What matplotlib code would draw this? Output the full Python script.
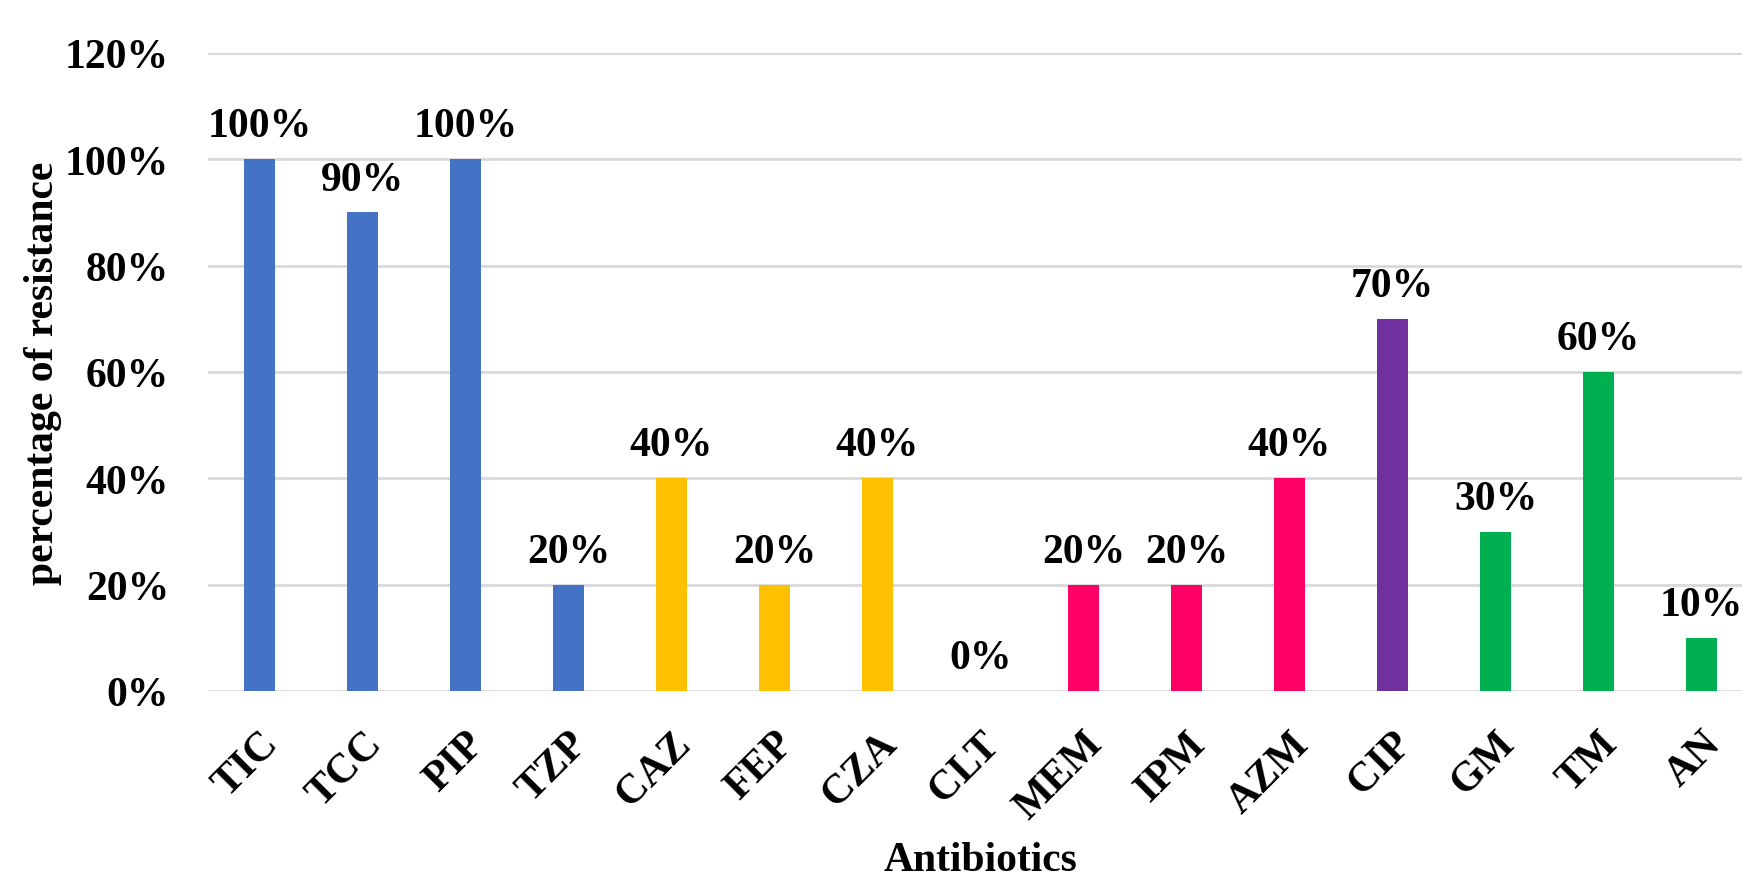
import matplotlib.pyplot as plt

# Resistance rate per antibiotic, grouped by class colour
antibiotics = ["TIC", "TCC", "PIP", "TZP", "CAZ", "FEP", "CZA", "CLT",
               "MEM", "IPM", "AZM", "CIP", "GM", "TM", "AN"]
resistance = [1.00, 0.90, 1.00, 0.20, 0.40, 0.20, 0.40, 0.00,
              0.20, 0.20, 0.40, 0.70, 0.30, 0.60, 0.10]
bar_colors = ["#4472C4"] * 4 + ["#FFC000"] * 3 + ["#FF0066"] * 4 + \
             ["#7030A0"] + ["#00B050"] * 3
y_ticks = [0, 0.2, 0.4, 0.6, 0.8, 1.0, 1.2]

plt.rcParams['font.family'] = ['Liberation Serif', 'DejaVu Serif']
plt.rcParams['font.weight'] = 'bold'
FS = 30

fig = plt.figure(figsize=(17.42, 8.78), dpi=100)
ax = fig.add_axes([208 / 1742, 186 / 878, 1545 / 1742, 638 / 878])

x = range(len(antibiotics))
ax.bar(x, resistance, width=0.31, color=bar_colors, zorder=3)

for xi, v in zip(x, resistance):
    ax.annotate(f"{v * 100:.0f}%", (xi, v), xytext=(0, 10),
                textcoords="offset points", ha="center", va="bottom",
                fontsize=FS, fontweight="bold", annotation_clip=False)

ax.set_xlim(-0.5, len(antibiotics) - 0.5)
ax.set_ylim(0, 1.2)
ax.set_yticks(y_ticks)
ax.set_yticklabels([f"{t * 100:.0f}%" for t in y_ticks], fontsize=FS,
                   fontweight="bold")
ax.set_xticks(list(x))
ax.set_xticklabels(antibiotics, rotation=45, ha="right",
                   rotation_mode="anchor", fontsize=FS, fontweight="bold")
ax.tick_params(length=0)
ax.tick_params(axis="x", pad=24)
ax.tick_params(axis="y", pad=28)

ax.grid(axis="y", color="#D9D9D9", linewidth=2, zorder=0)
for s in ax.spines.values():
    s.set_visible(False)

ax.set_ylabel("percentage of resistance", fontsize=FS, fontweight="bold",
              va="center")
ax.yaxis.set_label_coords(-0.107, 0.5)
ax.set_xlabel("Antibiotics", fontsize=FS, fontweight="bold", va="center")
ax.xaxis.set_label_coords(0.5, -0.265)

fig.savefig("out.png", dpi=100)
